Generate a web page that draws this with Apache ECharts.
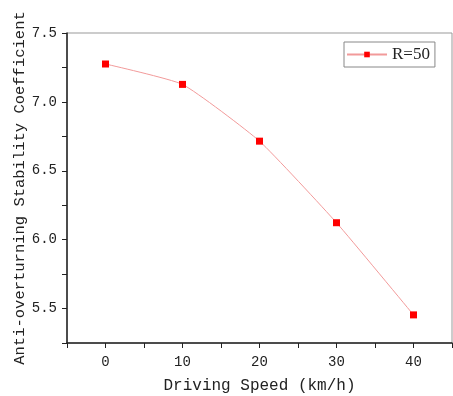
<!DOCTYPE html>
<html>
<head>
<meta charset="utf-8">
<script src="https://cdn.jsdelivr.net/npm/echarts@6/dist/echarts.min.js"></script>
<style>html,body{margin:0;padding:0;background:#fff}#c{width:453px;height:396px}</style>
</head>
<body>
<div id="c"></div>
<script>
const speeds = [0, 10, 20, 30, 40];
const coeffR50 = [7.275, 7.127, 6.715, 6.123, 5.454];
const seriesName = 'R=50';
const xTitle = 'Driving Speed (km/h)';
const yTitle = 'Anti-overturning Stability Coefficient';

const chart = echarts.init(document.getElementById('c'), null, {renderer: 'canvas'});
const mono = 'Liberation Mono';
chart.setOption({
  animation: false,
  grid: {left: 67, top: 33, right: 1, bottom: 53, show: true, borderColor: '#999', borderWidth: 1,
    containLabel: false, outerBoundsMode: 'none'},
  legend: {
    left: 344, top: 42,
    data: [seriesName],
    itemWidth: 40, itemHeight: 7,
    padding: [4, 5, 4, 2],
    borderColor: '#888', borderWidth: 1, borderRadius: 0,
    textStyle: {fontFamily: 'Liberation Serif', fontSize: 17, color: '#222', lineHeight: 17}
  },
  xAxis: {
    type: 'value', min: -5, max: 45, interval: 5,
    name: xTitle, nameLocation: 'middle', nameGap: 35,
    nameTextStyle: {fontFamily: mono, fontSize: 16, color: '#222'},
    axisLine: {onZero: false, lineStyle: {color: '#222', width: 1.5}},
    axisTick: {show: true, length: 5, lineStyle: {color: '#222'}},
    axisLabel: {fontFamily: mono, fontSize: 14, color: '#222', margin: 12,
      formatter: v => (v % 10 === 0 ? String(v) : '')},
    splitLine: {show: false}
  },
  yAxis: {
    type: 'value', min: 5.25, max: 7.5, interval: 0.25,
    name: yTitle, nameLocation: 'middle', nameGap: 39, nameRotate: 90, nameMoveOverlap: false,
    nameTextStyle: {fontFamily: mono, fontSize: 15.5, color: '#222'},
    axisLine: {show: true, onZero: false, lineStyle: {color: '#222', width: 1.5}},
    axisTick: {show: true, length: 5, lineStyle: {color: '#222'}},
    axisLabel: {fontFamily: mono, fontSize: 14, color: '#222', margin: 10,
      formatter: v => (Math.abs(v * 2 - Math.round(v * 2)) < 1e-6 ? v.toFixed(1) : '')},
    splitLine: {show: false}
  },
  series: [{
    name: seriesName, type: 'line',
    data: speeds.map((s, i) => [s, coeffR50[i]]),
    symbol: 'rect', symbolSize: 7,
    itemStyle: {color: '#ff0000'},
    lineStyle: {color: '#f29a9a', width: 1},
    smooth: 0.15
  }]
});
</script>
</body>
</html>
